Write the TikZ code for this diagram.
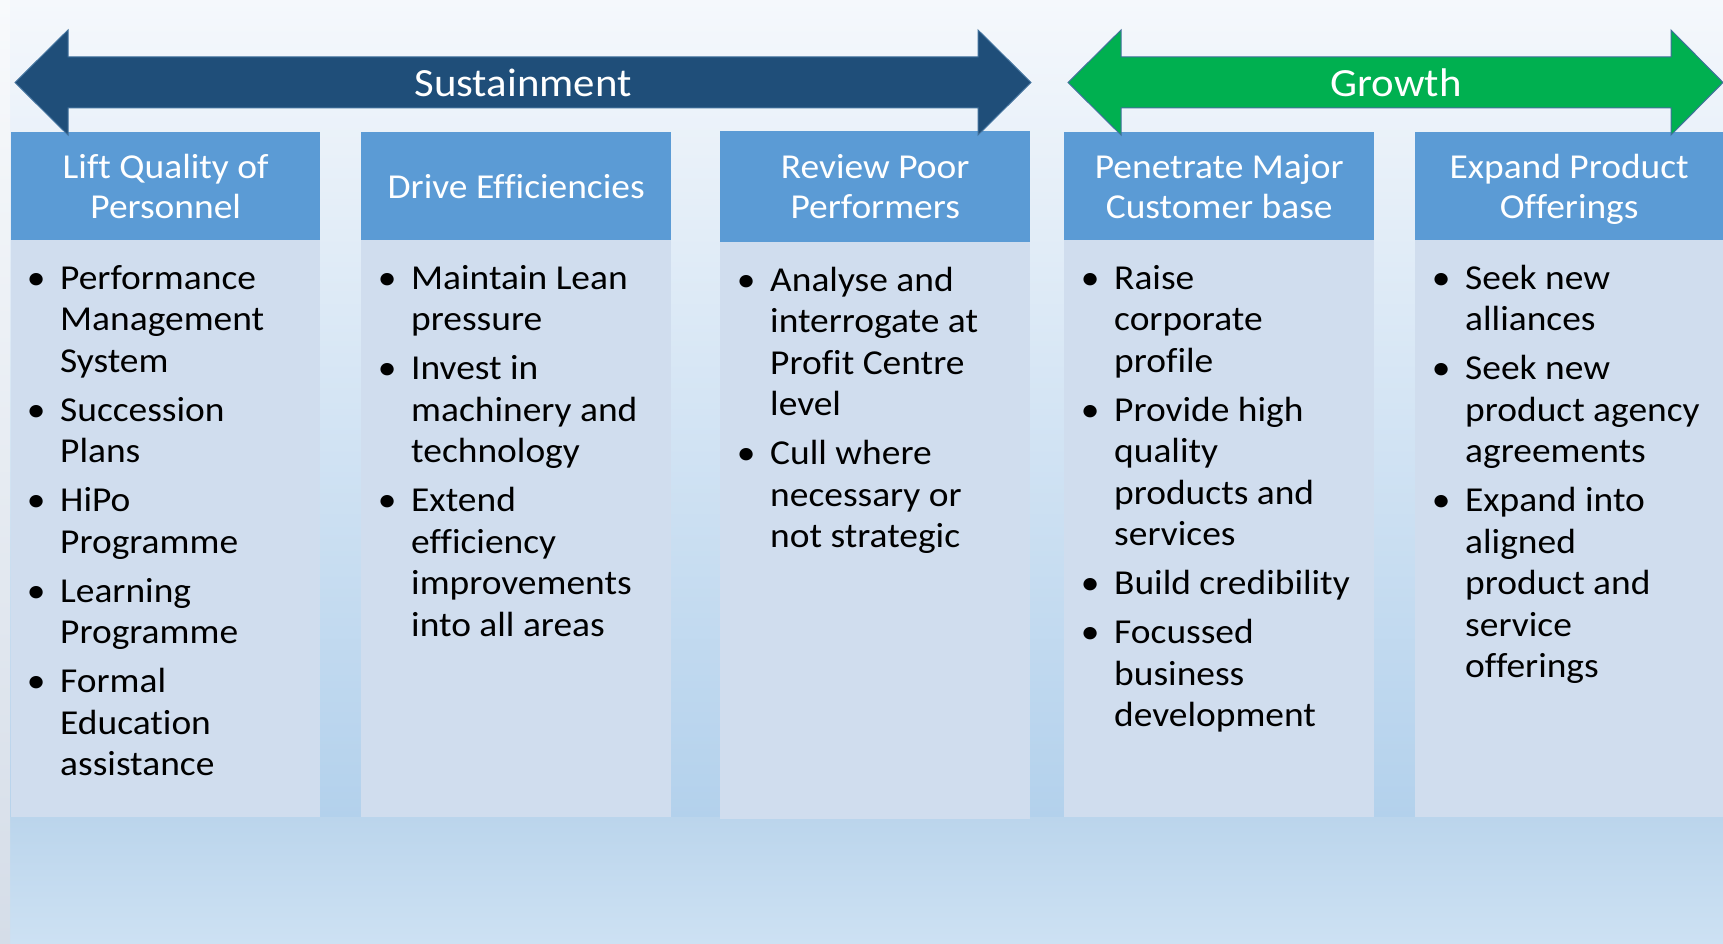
\documentclass[tikz,border=0pt]{standalone}
\usepackage{fontspec}
\setmainfont{Carlito}[FakeStretch=1.07, Ligatures=CommonOff]
\definecolor{hdr}{HTML}{5B9BD5}
\definecolor{bodyc}{HTML}{D0DDEE}
\definecolor{sust}{HTML}{1F4E79}
\definecolor{grow}{HTML}{00B050}
\definecolor{arrline}{HTML}{41719C}
\definecolor{bgtop}{HTML}{F5F8FC}
\definecolor{bgmid}{HTML}{B3D1EC}
\definecolor{bgbA}{HTML}{BBD5EC}
\definecolor{bgbB}{HTML}{CDE1F3}
\definecolor{stripA}{HTML}{F8FAFC}
\definecolor{stripB}{HTML}{D5DDE8}
\tikzset{
  hdrbox/.style={fill=hdr, draw=none, anchor=north west, minimum width=310pt, minimum height=108pt,
    inner sep=0pt, text=white, align=center, font=\fontsize{35}{40}\selectfont},
  bodybox/.style={fill=bodyc, draw=none, anchor=north west, minimum width=310pt, minimum height=577pt, inner sep=0pt},
  bodytext/.style={anchor=north west, inner sep=0pt, align=left, text=black, font=\fontsize{35}{41.5}\selectfont},
  arrowshape/.style={draw=arrline, line width=1pt, line join=miter},
  arrowtext/.style={text=white, font=\fontsize{40}{48}\selectfont, inner sep=0pt}
}
\newcommand{\bul}{\llap{\makebox[48pt][c]{•}}}
\newcommand{\nodepth}[1]{\raisebox{0pt}[\height][0pt]{#1}}
\begin{document}
\begin{tikzpicture}[x=1pt,y=-1pt]
\useasboundingbox (0,0) rectangle (1723,944);
% background
\shade[top color=bgtop, bottom color=bgmid] (0,0) rectangle (1723,817);
\shade[top color=bgbA, bottom color=bgbB] (0,817) rectangle (1723,944);
\shade[top color=stripA, bottom color=stripB] (0,0) rectangle (10,944);

% body boxes
\node[bodybox, minimum width=309pt] (b1) at (11,240) {};
\node[bodybox] (b2) at (361,240) {};
\node[bodybox] (b3) at (720,242) {};
\node[bodybox] (b4) at (1064,240) {};
\node[bodybox, minimum width=308pt] (b5) at (1415,240) {};

% header boxes
\node[hdrbox, minimum width=309pt] (h1) at (11,132) {Lift Quality of\\Personnel};
\node[hdrbox] (h2) at (361,132) {Drive Efficiencies};
\node[hdrbox, minimum height=111pt] (h3) at (720,131) {Review Poor\\Performers};
\node[hdrbox] (h4) at (1064,132) {Penetrate Major\\Customer base};
\node[hdrbox, minimum width=308pt] (h5) at (1415,132) {Expand Product\\\nodepth{Offerings}};

% arrows
\draw[arrowshape, fill=sust] (15,82.5) -- (68,30) -- (68,57) -- (978,57) -- (978,30) -- (1031,82.5)
  -- (978,135) -- (978,108) -- (68,108) -- (68,135) -- cycle;
\node[arrowtext] (sus) at (523,83) {Sustainment};
\draw[arrowshape, fill=grow] (1068,82.5) -- (1121,30) -- (1121,57) -- (1671,57) -- (1671,30) -- (1723,82.5)
  -- (1671,135) -- (1671,108) -- (1121,108) -- (1121,135) -- cycle;
\node[arrowtext] (gro) at (1396,83) {Growth};

% body texts
\node[bodytext] (t1) at (60,260) {\strut\bul Performance\\Management\\System\\[7.5pt]
\bul Succession\\Plans\\[7.5pt]
\bul HiPo\\Programme\\[7.5pt]
\bul Learning\\Programme\\[7.5pt]
\bul Formal\\Education\\assistance};
\node[bodytext] (t2) at (411,260) {\strut\bul Maintain Lean\\pressure\\[7.5pt]
\bul Invest in\\machinery and\\technology\\[7.5pt]
\bul Extend\\efficiency\\improvements\\into all areas};
\node[bodytext] (t3) at (770,262) {\strut\bul Analyse and\\interrogate at\\Profit Centre\\level\\[7.5pt]
\bul Cull where\\necessary or\\not strategic};
\node[bodytext] (t4) at (1114,260) {\strut\bul Raise\\corporate\\profile\\[7.5pt]
\bul Provide high\\quality\\products and\\services\\[7.5pt]
\bul Build credibility\\[7.5pt]
\bul Focussed\\business\\development};
\node[bodytext] (t5) at (1465,260) {\strut\bul Seek new\\alliances\\[7.5pt]
\bul Seek new\\product agency\\agreements\\[7.5pt]
\bul Expand into\\aligned\\product and\\service\\offerings};
\end{tikzpicture}
\end{document}
